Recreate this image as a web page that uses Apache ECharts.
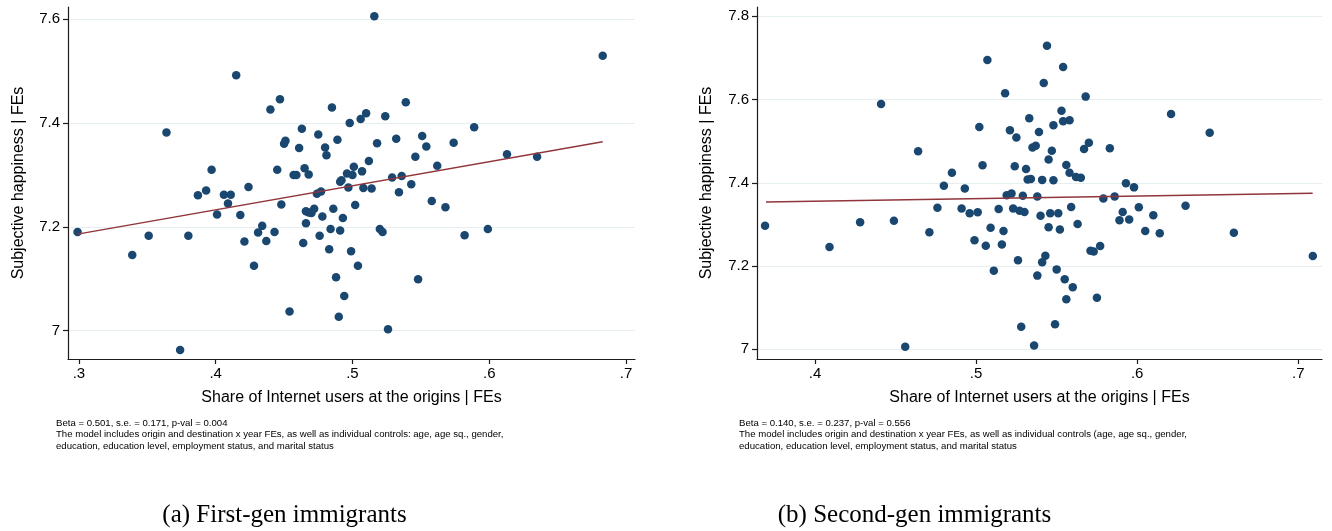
<!DOCTYPE html>
<html>
<head>
<meta charset="utf-8">
<title>Internet use at origin and subjective happiness</title>
<script src="https://cdn.jsdelivr.net/npm/echarts@6.0.0/dist/echarts.min.js"></script>
<style>
  html, body { margin: 0; padding: 0; background: #ffffff; }
  #chart { width: 1332px; height: 531px; }
</style>
</head>
<body>
<div id="chart"></div>
<script>
// First-generation immigrants: one point per origin group
const firstGenX = [0.299,0.339,0.351,0.380,0.374,0.364,0.387,0.393,0.397,0.406,
  0.411,0.409,0.401,0.418,0.415,0.424,0.421,0.428,0.431,0.434,
  0.437,0.443,0.440,0.447,0.445,0.448,0.451,0.450,0.454,0.457,
  0.459,0.461,0.463,0.465,0.464,0.466,0.466,0.468,0.470,0.472,
  0.468,0.474,0.477,0.475,0.476,0.478,0.480,0.481,0.483,0.484,
  0.485,0.486,0.488,0.489,0.490,0.491,0.491,0.492,0.493,0.494,
  0.496,0.500,0.497,0.498,0.499,0.501,0.502,0.504,0.506,0.507,
  0.508,0.510,0.512,0.514,0.516,0.518,0.520,0.522,0.524,0.526,
  0.529,0.532,0.534,0.536,0.539,0.543,0.546,0.548,0.551,0.554,
  0.558,0.562,0.568,0.574,0.582,0.589,0.599,0.613,0.635,0.683];
const firstGenY = [7.190,7.146,7.183,7.183,6.963,7.382,7.261,7.270,7.310,7.262,
  7.262,7.245,7.224,7.223,7.492,7.277,7.172,7.125,7.189,7.202,
  7.173,7.190,7.426,7.446,7.310,7.243,7.366,7.360,7.037,7.300,
  7.300,7.352,7.389,7.313,7.169,7.207,7.230,7.228,7.227,7.235,
  7.301,7.264,7.268,7.378,7.183,7.220,7.353,7.338,7.157,7.196,
  7.430,7.235,7.103,7.368,7.027,7.193,7.287,7.290,7.217,7.067,
  7.303,7.300,7.276,7.400,7.153,7.316,7.242,7.125,7.408,7.307,
  7.275,7.419,7.327,7.274,7.606,7.361,7.196,7.190,7.413,7.003,
  7.295,7.370,7.267,7.298,7.440,7.282,7.335,7.099,7.375,7.355,
  7.250,7.318,7.238,7.362,7.184,7.392,7.196,7.340,7.335,7.530];
// Linear fit for first generation (end points)
const firstGenFitX = [0.299, 0.683];
const firstGenFitY = [7.186, 7.364];

// Second-generation immigrants
const secondGenX = [0.369,0.409,0.428,0.449,0.441,0.456,0.464,0.471,0.476,0.480,
  0.485,0.491,0.493,0.496,0.501,0.499,0.502,0.504,0.506,0.507,
  0.509,0.511,0.514,0.516,0.517,0.518,0.519,0.522,0.521,0.523,
  0.524,0.525,0.526,0.527,0.528,0.529,0.530,0.531,0.532,0.534,
  0.533,0.535,0.537,0.536,0.538,0.538,0.539,0.540,0.541,0.541,
  0.542,0.543,0.544,0.545,0.545,0.546,0.547,0.548,0.548,0.549,
  0.550,0.551,0.552,0.553,0.554,0.554,0.558,0.555,0.556,0.556,
  0.558,0.559,0.560,0.562,0.563,0.565,0.567,0.568,0.570,0.571,
  0.573,0.575,0.577,0.579,0.583,0.586,0.589,0.591,0.593,0.595,
  0.598,0.601,0.605,0.610,0.614,0.621,0.630,0.645,0.660,0.709];
const secondGenY = [7.297,7.246,7.305,7.309,7.589,7.006,7.476,7.281,7.340,7.393,
  7.424,7.338,7.386,7.327,7.329,7.262,7.534,7.442,7.249,7.695,
  7.292,7.189,7.337,7.252,7.284,7.615,7.370,7.374,7.526,7.338,
  7.440,7.509,7.214,7.333,7.054,7.369,7.330,7.433,7.408,7.409,
  7.555,7.485,7.489,7.009,7.367,7.177,7.522,7.321,7.209,7.407,
  7.640,7.225,7.729,7.456,7.293,7.327,7.477,7.406,7.538,7.060,
  7.192,7.327,7.288,7.573,7.678,7.548,7.550,7.168,7.443,7.120,
  7.424,7.342,7.149,7.414,7.301,7.412,7.481,7.607,7.496,7.237,
  7.235,7.124,7.248,7.362,7.483,7.367,7.310,7.330,7.399,7.312,
  7.389,7.341,7.284,7.322,7.279,7.565,7.345,7.520,7.280,7.224];
const secondGenFitX = [0.3696, 0.7089];
const secondGenFitY = [7.354, 7.375];

// Tick values
const firstGenXTicks = [0.3, 0.4, 0.5, 0.6, 0.7];
const firstGenYTicks = [7.0, 7.2, 7.4, 7.6];
const secondGenXTicks = [0.4, 0.5, 0.6, 0.7];
const secondGenYTicks = [7.0, 7.2, 7.4, 7.6, 7.8];

// Texts
const xTitle = 'Share of Internet users at the origins | FEs';
const yTitle = 'Subjective happiness | FEs';
const firstGenNote = 'Beta = 0.501, s.e. = 0.171, p-val = 0.004\n' +
  'The model includes origin and destination x year FEs, as well as individual controls: age, age sq., gender,\n' +
  'education, education level, employment status, and marital status';
const secondGenNote = 'Beta = 0.140, s.e. = 0.237, p-val = 0.556\n' +
  'The model includes origin and destination x year FEs, as well as individual controls (age, age sq., gender,\n' +
  'education, education level, employment status, and marital status';
const firstGenCaption = '(a) First-gen immigrants';
const secondGenCaption = '(b) Second-gen immigrants';

const FONT = '"Liberation Sans", Arial, Helvetica, sans-serif';
const SERIF = '"Liberation Serif", "DejaVu Serif", serif';
const AXIS = '#1c1c1c';
const GRID = '#e5eef0';
const MARKER = '#1a476f';
const FIT = '#90353b';

const pairs = (xs, ys) => xs.map((x, i) => [x, ys[i]]);
const fmtX = v => v.toFixed(1).replace(/^0/, '');
const fmtY = v => (Math.abs(v - Math.round(v)) < 1e-9 ? String(Math.round(v)) : v.toFixed(1));

function xAxisFor(gridIndex, min, max, ticks) {
  return {
    type: 'value', gridIndex, min, max,
    name: xTitle, nameLocation: 'middle', nameGap: 31,
    nameTextStyle: { fontSize: 16, color: '#000', fontFamily: FONT },
    axisLine: { show: true, onZero: false, lineStyle: { color: AXIS, width: 1.2 } },
    axisTick: { show: true, length: 5, customValues: ticks, lineStyle: { color: AXIS, width: 1.2 } },
    axisLabel: { customValues: ticks, margin: 7, fontSize: 15, color: '#000', fontFamily: FONT, formatter: fmtX },
    splitLine: { show: false }
  };
}

function yAxisFor(gridIndex, min, max, ticks, gap) {
  return {
    type: 'value', gridIndex, min, max,
    name: yTitle, nameLocation: 'middle', nameGap: gap,
    nameTextStyle: { fontSize: 16, color: '#000', fontFamily: FONT },
    axisLine: { show: true, onZero: false, lineStyle: { color: AXIS, width: 1.2 } },
    axisTick: { show: true, length: 5, customValues: ticks, lineStyle: { color: AXIS, width: 1.2 } },
    axisLabel: { customValues: ticks, margin: 8, fontSize: 15, color: '#000', fontFamily: FONT, formatter: fmtY },
    splitLine: { show: true, lineStyle: { color: GRID, width: 1.2 } }
  };
}

const chart = echarts.init(document.getElementById('chart'), null, { renderer: 'canvas', width: 1332, height: 531 });

chart.setOption({
  animation: false,
  backgroundColor: '#ffffff',
  grid: [
    { left: 68, top: 7, width: 567, height: 352 },
    { left: 757, top: 7, width: 565, height: 352 }
  ],
  xAxis: [
    xAxisFor(0, 0.2920, 0.7066, firstGenXTicks),
    xAxisFor(1, 0.3640, 0.7147, secondGenXTicks)
  ],
  yAxis: [
    yAxisFor(0, 6.9455, 7.6237, firstGenYTicks, 41),
    yAxisFor(1, 6.9767, 7.8223, secondGenYTicks, 42)
  ],
  series: [
    {
      type: 'scatter', xAxisIndex: 0, yAxisIndex: 0, z: 2,
      symbol: 'circle', symbolSize: 8.5,
      itemStyle: { color: MARKER, opacity: 1 },
      data: pairs(firstGenX, firstGenY)
    },
    {
      type: 'line', xAxisIndex: 0, yAxisIndex: 0, z: 3,
      symbol: 'none', lineStyle: { color: FIT, width: 1.4 },
      data: pairs(firstGenFitX, firstGenFitY)
    },
    {
      type: 'scatter', xAxisIndex: 1, yAxisIndex: 1, z: 2,
      symbol: 'circle', symbolSize: 8.5,
      itemStyle: { color: MARKER, opacity: 1 },
      data: pairs(secondGenX, secondGenY)
    },
    {
      type: 'line', xAxisIndex: 1, yAxisIndex: 1, z: 3,
      symbol: 'none', lineStyle: { color: FIT, width: 1.4 },
      data: pairs(secondGenFitX, secondGenFitY)
    }
  ],
  graphic: [
    {
      type: 'text', left: 56, top: 417,
      style: { text: firstGenNote, font: '9.6px ' + FONT, fill: '#000', lineHeight: 11.7 }
    },
    {
      type: 'text', left: 739, top: 417,
      style: { text: secondGenNote, font: '9.6px ' + FONT, fill: '#000', lineHeight: 11.7 }
    },
    {
      type: 'text', x: 284.5, y: 515,
      style: { text: firstGenCaption, font: '25px ' + SERIF, fill: '#000', align: 'center', verticalAlign: 'middle' }
    },
    {
      type: 'text', x: 914.5, y: 515,
      style: { text: secondGenCaption, font: '25px ' + SERIF, fill: '#000', align: 'center', verticalAlign: 'middle' }
    }
  ]
});
</script>
</body>
</html>
